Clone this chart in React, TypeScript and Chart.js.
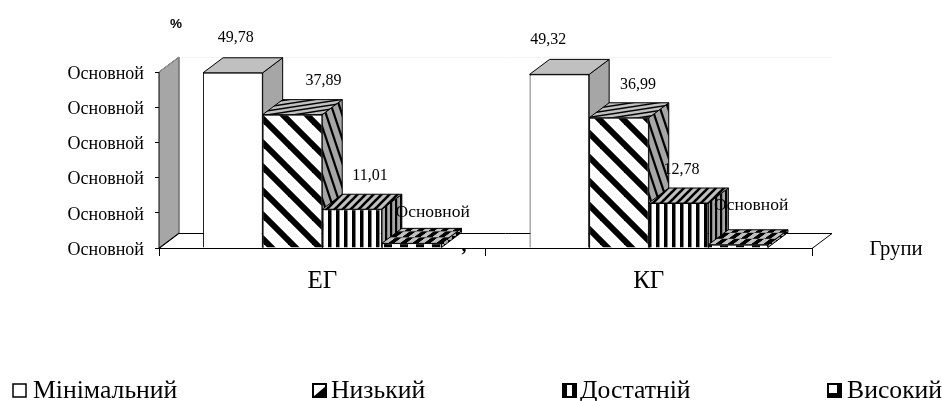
import React, { useEffect, useRef } from "react";
import { Chart, registerables } from "chart.js";

Chart.register(...registerables);

const categories = ["ЕГ", "КГ"];
const seriesNames = ["Мінімальний", "Низький", "Достатній", "Високий"];
const minimal = [49.78, 49.32];
const low = [37.89, 36.99];
const sufficient = [11.01, 12.78];
const high = [1.32, 0.91];
const highLabels = ["Основной", "Основной"];
const yTickLabel = "Основной";
const xAxisTitle = "Групи";
const yAxisTitle = "%";

const SERIF = '"Liberation Serif", serif';
const DX = 20;
const DY = 15;
const labelOffsets = [
  [[3, -35], [31, -34], [18, -33], [21, -31]],
  [[-11, -35], [19, -33], [3, -33], [13, -39]],
];
const legendMarkX = [13, 313, 563, 828];
const legendTextX = [33, 331, 580, 847];

type Draw = (c: CanvasRenderingContext2D, w: number, h: number) => void;
function tile(w: number, h: number, draw: Draw): CanvasPattern {
  const cv = document.createElement("canvas");
  cv.width = w;
  cv.height = h;
  const c = cv.getContext("2d")!;
  draw(c, w, h);
  return c.createPattern(cv, "repeat")!;
}
function slanted(w: number, h: number, black: number, bg: string, down: boolean) {
  return tile(w, h, (c) => {
    c.fillStyle = bg;
    c.fillRect(0, 0, w, h);
    c.strokeStyle = "#000";
    c.lineWidth = black;
    for (const o of [-w, 0, w]) {
      c.beginPath();
      if (down) {
        c.moveTo(o - w, -h);
        c.lineTo(o + 2 * w, 2 * h);
      } else {
        c.moveTo(o - w, 2 * h);
        c.lineTo(o + 2 * w, -h);
      }
      c.stroke();
    }
  });
}
function vert(period: number, black: number, bg: string) {
  return tile(period, 4, (c, w, h) => {
    c.fillStyle = bg;
    c.fillRect(0, 0, w, h);
    c.fillStyle = "#000";
    c.fillRect(0, 0, black, h);
  });
}
function check(cell: number, bg: string) {
  return tile(cell * 2, cell * 2, (c) => {
    c.fillStyle = bg;
    c.fillRect(0, 0, cell * 2, cell * 2);
    c.fillStyle = "#000";
    c.fillRect(0, 0, cell, cell);
    c.fillRect(cell, cell, cell, cell);
  });
}

function face(c: CanvasRenderingContext2D, pts: number[][], fill: string | CanvasPattern, skew?: number[] | null) {
  c.save();
  c.beginPath();
  pts.forEach((p, i) => (i ? c.lineTo(p[0], p[1]) : c.moveTo(p[0], p[1])));
  c.closePath();
  if (skew) c.transform(skew[0], skew[1], skew[2], skew[3], pts[0][0], pts[0][1]);
  c.fillStyle = fill;
  c.fill();
  c.restore();
  c.strokeStyle = "#000";
  c.lineWidth = 1;
  c.stroke();
}

export default function App() {
  const ref = useRef<HTMLCanvasElement>(null);
  useEffect(() => {
    const fronts = ["#ffffff", slanted(24, 24, 6, "#fff", true), vert(8, 3.5, "#fff"), check(8, "#fff")];
    const tops = ["#c0c0c0", slanted(26, 4, 1.4, "#c0c0c0", false), slanted(8, 8, 2.6, "#c0c0c0", false), check(6, "#c0c0c0")];
    const sides = ["#a6a6a6", slanted(8, 24, 2.2, "#a6a6a6", true), vert(5, 2.2, "#a6a6a6"), check(4, "#a6a6a6")];
    const topSkew = [null, null, null, [1, 0, -DX / DY, 1]];

    const scene = {
      id: "scene",
      beforeDraw(chart: Chart) {
        const s: any = chart.scales.y;
        const items = s.getLabelItems(chart.chartArea);
        items.forEach((it: any) => {
          it.options.translation = [it.options.translation[0], it.options.translation[1] + 2];
        });
      },
      beforeDatasetsDraw(chart: Chart) {
        const c = chart.ctx;
        const { left, right, top, bottom } = chart.chartArea;
        c.save();
        c.strokeStyle = "#f4f4f4";
        c.lineWidth = 1;
        c.beginPath();
        c.moveTo(left + DX, top - DY + 0.5);
        c.lineTo(right + DX, top - DY + 0.5);
        c.stroke();
        face(c, [[left, bottom], [left, top], [left + DX, top - DY], [left + DX, bottom - DY]], "#a6a6a6");
        c.strokeStyle = "#a6a6a6";
        c.beginPath();
        c.moveTo(left, top);
        c.lineTo(left + DX, top - DY);
        c.lineTo(left + DX, bottom - DY);
        c.stroke();
        c.strokeStyle = "#000";
        c.beginPath();
        c.moveTo(left, bottom + 0.5);
        c.lineTo(left + DX, bottom - DY + 0.5);
        c.lineTo(right + DX, bottom - DY + 0.5);
        c.lineTo(right, bottom + 0.5);
        c.stroke();
        chart.data.datasets.forEach((_, si) => {
          chart.getDatasetMeta(si).data.forEach((el: any) => {
            const l = el.x - el.width / 2;
            const r = el.x + el.width / 2;
            const t = el.y;
            const b = el.base;
            face(c, [[r, t], [r + DX, t - DY], [r + DX, b - DY], [r, b]], sides[si]);
            face(c, [[l, t], [r, t], [r + DX, t - DY], [l + DX, t - DY]], tops[si], topSkew[si]);
          });
        });
        c.restore();
      },
      afterDatasetsDraw(chart: Chart) {
        const c = chart.ctx;
        c.save();
        c.fillStyle = "#000";
        c.textAlign = "center";
        c.textBaseline = "middle";
        chart.data.datasets.forEach((ds: any, si) => {
          chart.getDatasetMeta(si).data.forEach((el: any, gi: number) => {
            const v = ds.data[gi] as number;
            const text = si === 3 ? highLabels[gi] : v.toFixed(2).replace(".", ",");
            const [ox, oy] = labelOffsets[gi][si];
            c.font = `${si === 3 ? 17.5 : 16}px ${SERIF}`;
            c.fillText(text, el.x + ox, el.y + oy);
          });
        });
        c.textBaseline = "alphabetic";
        c.font = `bold 20px ${SERIF}`;
        c.fillText(",", 464, 251);
        c.textBaseline = "middle";
        c.font = `bold 13.5px "Liberation Sans", sans-serif`;
        c.fillText(yAxisTitle, 176, 24);
        c.font = `20.7px ${SERIF}`;
        c.fillText(xAxisTitle, 896, 250);
        c.textAlign = "left";
        c.textBaseline = "alphabetic";
        c.font = `25.7px ${SERIF}`;
        seriesNames.forEach((name, i) => {
          const x = legendMarkX[i];
          const y = 384;
          const s = 13;
          c.fillStyle = "#fff";
          c.fillRect(x, y, s, s);
          c.fillStyle = "#000";
          if (i === 1) {
            c.beginPath();
            c.moveTo(x, y + s);
            c.lineTo(x + s, y + 2);
            c.lineTo(x + s, y + s);
            c.closePath();
            c.fill();
          }
          if (i === 2) {
            c.fillRect(x, y, 4, s);
            c.fillRect(x + s - 4, y, 4, s);
          }
          if (i === 3) {
            c.fillRect(x + s - 4, y, 4, s);
            c.fillRect(x, y + s - 4, s, 4);
          }
          c.strokeStyle = "#000";
          c.lineWidth = i === 0 ? 1.5 : 2;
          c.strokeRect(x, y, s, s);
          c.fillStyle = "#000";
          c.fillText(name, legendTextX[i], 398);
        });
        c.restore();
      },
    };

    const chart = new Chart(ref.current!, {
      type: "bar",
      data: {
        labels: categories,
        datasets: [minimal, low, sufficient, high].map((data, i) => ({
          label: seriesNames[i],
          data,
          backgroundColor: fronts[i],
          borderColor: "#000",
          borderWidth: 1,
          categoryPercentage: 0.73,
          barPercentage: 1,
        })),
      },
      plugins: [scene],
      options: {
        animation: false,
        responsive: false,
        layout: { padding: { top: 72, right: 130, left: 0, bottom: 0 } },
        plugins: { legend: { display: false }, tooltip: { enabled: false } },
        scales: {
          x: {
            afterFit: (s: any) => { s.height = 153; },
            border: { color: "#000", width: 1 },
            grid: { drawOnChartArea: false, color: "#000", tickLength: 8 },
            ticks: { color: "#000", font: { family: SERIF, size: 25 }, padding: 10, maxRotation: 0 },
          },
          y: {
            min: 0,
            max: 50,
            afterFit: (s: any) => { s.width = 159; },
            border: { color: "#000", width: 1 },
            grid: { drawOnChartArea: false, color: "#000", tickLength: 4 },
            ticks: {
              stepSize: 10,
              color: "#000",
              font: { family: SERIF, size: 18 },
              padding: 11,
              callback: () => yTickLabel,
            },
          },
        },
      },
    } as any);
    return () => chart.destroy();
  }, []);
  return <canvas ref={ref} width={942} height={401} style={{ position: "absolute", left: 0, top: 0 }} />;
}
